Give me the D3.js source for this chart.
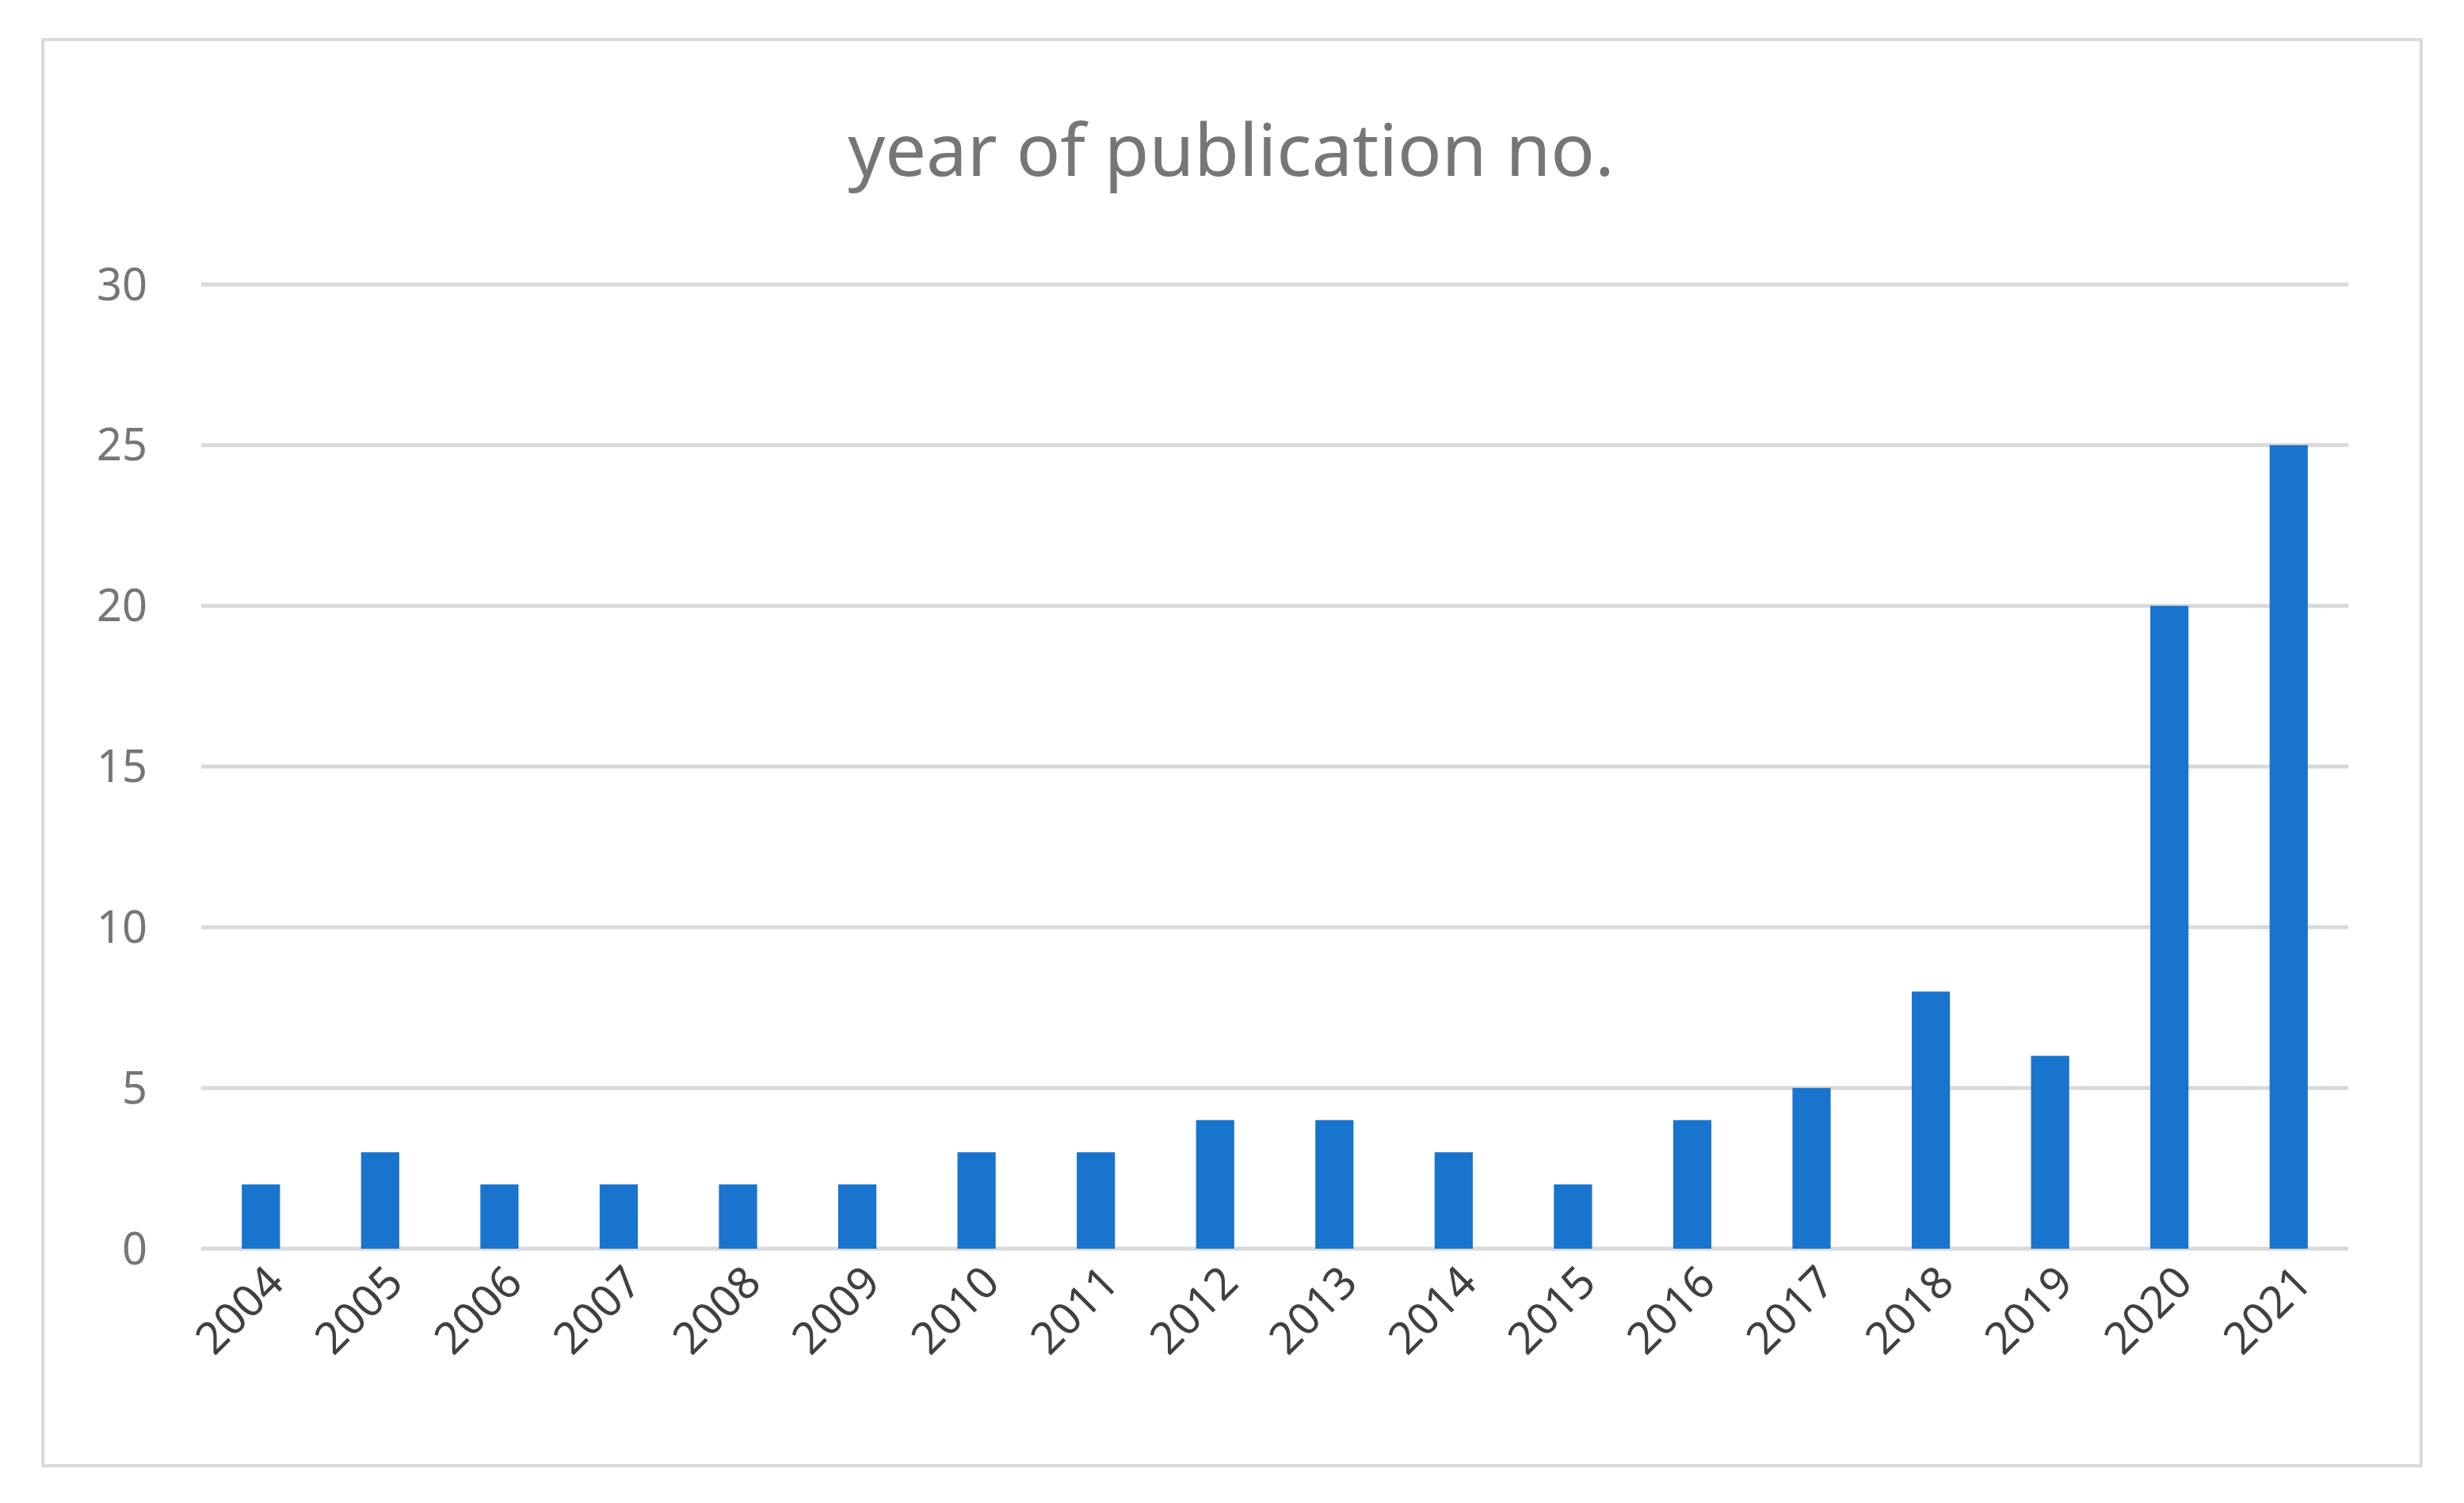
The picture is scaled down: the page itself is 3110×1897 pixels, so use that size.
<!DOCTYPE html>
<html>
<head>
<meta charset="utf-8">
<script src="https://cdn.jsdelivr.net/npm/d3@7"></script>
<style>
  body { margin: 0; background: #fff; }
  text { font-family: "Noto Sans", "Open Sans", sans-serif; }
</style>
</head>
<body>
<svg id="chart" width="3110" height="1897"></svg>
<script>
const years = ['2004','2005','2006','2007','2008','2009','2010','2011','2012',
               '2013','2014','2015','2016','2017','2018','2019','2020','2021'];
const counts = [2, 3, 2, 2, 2, 2, 3, 3, 4, 4, 3, 2, 4, 5, 8, 6, 20, 25];
const yTicks = [0, 5, 10, 15, 20, 25, 30];
const title = 'year of publication no.';

const svg = d3.select('#chart');
const MARGIN = {top: 359, right: 146, bottom: 321, left: 254};
const WIDTH = 3110, HEIGHT = 1897;

// outer frame
svg.append('rect')
    .attr('x', 54).attr('y', 50)
    .attr('width', 3002).attr('height', 1800)
    .attr('fill', '#fff').attr('stroke', '#d9d9d9').attr('stroke-width', 4);

svg.append('text')
    .attr('x', 1554).attr('y', 222)
    .attr('text-anchor', 'middle')
    .attr('font-size', 92)
    .attr('fill', '#767676')
    .text(title);

const xScale = d3.scaleBand()
    .domain(years)
    .range([MARGIN.left, WIDTH - MARGIN.right])
    .paddingInner(0.68).paddingOuter(0.34);

const yScale = d3.scaleLinear()
    .domain([0, 30])
    .range([HEIGHT - MARGIN.bottom, MARGIN.top]);

// gridlines
svg.append('g').selectAll('line')
    .data(yTicks)
    .join('line')
    .attr('x1', MARGIN.left).attr('x2', WIDTH - MARGIN.right)
    .attr('y1', d => yScale(d)).attr('y2', d => yScale(d))
    .attr('stroke', '#d9d9d9').attr('stroke-width', 5);

// y labels
svg.append('g').selectAll('text')
    .data(yTicks)
    .join('text')
    .attr('x', 186)
    .attr('y', d => yScale(d))
    .attr('dy', '0.35em')
    .attr('text-anchor', 'end')
    .attr('font-size', 56)
    .attr('fill', '#767676')
    .text(d => d);

// bars
svg.append('g').selectAll('rect')
    .data(years.map((y, i) => ({year: y, value: counts[i]})))
    .join('rect')
    .attr('x', d => xScale(d.year))
    .attr('y', d => yScale(d.value))
    .attr('width', xScale.bandwidth())
    .attr('height', d => yScale(0) - yScale(d.value))
    .attr('fill', '#1874cd');

// x labels, rotated
svg.append('g').selectAll('text')
    .data(years)
    .join('text')
    .attr('transform', d => `translate(${xScale(d) + xScale.bandwidth() / 2 + 18}, 1608) rotate(-45)`)
    .attr('text-anchor', 'end')
    .attr('dy', '0.35em')
    .attr('font-size', 56)
    .attr('fill', '#404040')
    .text(d => d);
</script>
</body>
</html>
